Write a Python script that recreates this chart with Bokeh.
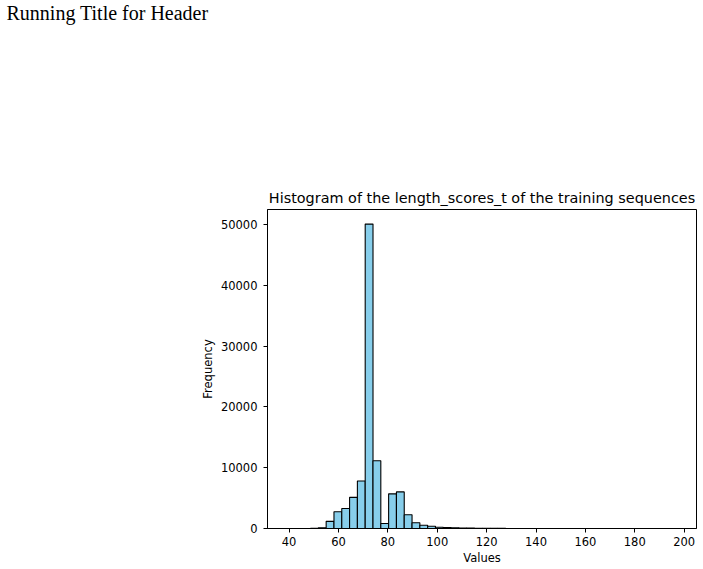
import numpy as np
from bokeh.plotting import figure
from bokeh.models import Range1d, FixedTicker, BasicTickFormatter, Div
from bokeh.layouts import column
from bokeh.embed import file_html
from bokeh.resources import INLINE

# ---- data ----
header_text = "Running Title for Header"
title_text = "Histogram of the length_scores_t of the training sequences"
x_label = "Values"
y_label = "Frequency"

data_min = 39.2
data_max = 197.3
n_bins = 50
counts = [3, 6, 12, 30, 110, 1180, 2760, 3280, 5130, 7820,
          50100, 11150, 830, 5700, 6020, 2260, 940, 540, 380, 215,
          160, 105, 75, 55, 40, 30, 22, 16, 12, 10,
          8, 6, 5, 4, 3, 3, 2, 2, 2, 1,
          1, 1, 1, 1, 0, 1, 0, 1, 0, 1]
x_ticks = [40, 60, 80, 100, 120, 140, 160, 180, 200]
y_ticks = [0, 10000, 20000, 30000, 40000, 50000]

edges = np.linspace(data_min, data_max, n_bins + 1)

FONT = "DejaVu Sans"
HEAD_H = 30

# ---- header ----
hdr = Div(text=header_text, width=703, height=HEAD_H,
          styles={"font-family": "'Liberation Serif', 'Times New Roman', serif",
                  "font-size": "20px", "line-height": "26.5px",
                  "color": "black", "padding-left": "6.5px",
                  "margin": "0", "white-space": "nowrap"})

# ---- histogram ----
p = figure(width=703, height=569 - HEAD_H, output_backend="svg", toolbar_location=None,
           x_range=Range1d(31.25, 205.0), y_range=Range1d(0, 52500),
           min_border_left=267, min_border_right=7, min_border_top=209 - HEAD_H,
           min_border_bottom=41)

p.quad(left=edges[:-1], right=edges[1:], top=counts, bottom=0,
       fill_color="#87CEEB", line_color="black", line_width=1.1)

p.title.text = title_text
p.title.align = "center"
p.title.text_font = FONT
p.title.text_font_size = "14.4px"
p.title.text_font_style = "normal"
p.title.text_color = "black"
p.title.standoff = 8

for ax in (p.xaxis[0], p.yaxis[0]):
    ax.major_label_text_font = FONT
    ax.major_label_text_font_size = "11.5px"
    ax.major_label_text_color = "black"
    ax.axis_label_text_font = FONT
    ax.axis_label_text_font_size = "11.5px"
    ax.axis_label_text_font_style = "normal"
    ax.axis_label_text_color = "black"
    ax.axis_line_color = "black"
    ax.major_tick_line_color = "black"
    ax.major_tick_out = 4
    ax.major_tick_in = 0
    ax.minor_tick_out = 0
    ax.minor_tick_in = 0

p.xaxis[0].ticker = FixedTicker(ticks=x_ticks)
p.yaxis[0].ticker = FixedTicker(ticks=y_ticks)
p.yaxis[0].formatter = BasicTickFormatter(use_scientific=False)
p.xaxis[0].axis_label = x_label
p.yaxis[0].axis_label = y_label
p.xaxis[0].major_label_standoff = 4
p.xaxis[0].axis_label_standoff = 2
p.yaxis[0].major_label_standoff = 6
p.yaxis[0].axis_label_standoff = 3

p.xgrid.visible = False
p.ygrid.visible = False
p.outline_line_color = "black"
p.outline_line_width = 1
p.background_fill_color = "white"
p.border_fill_color = "white"

open("out.html", "w").write(file_html(column(hdr, p, spacing=0), INLINE))
